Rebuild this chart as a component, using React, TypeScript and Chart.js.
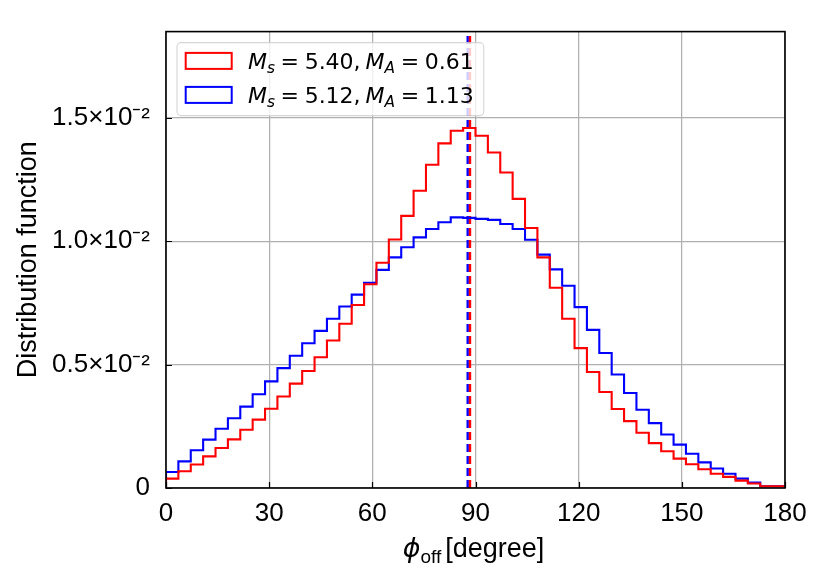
import { useEffect, useRef } from "react";
import { Chart, registerables } from "chart.js";

Chart.register(...registerables);

// ---- data ----
const X_MIN = 0;
const X_MAX = 180;
const Y_MAX = 0.0185;

// Ms = 5.40, MA = 0.61 (red), 50 bins over 0..180 degree
const redValues = [
  0.00014, 0.00038, 0.00068, 0.00095, 0.00128, 0.00162, 0.00197, 0.00236, 0.00277, 0.00321,
  0.00371, 0.00423, 0.00474, 0.0053, 0.00598, 0.00666, 0.00742, 0.00826, 0.00913, 0.01007,
  0.01103, 0.01205, 0.0131, 0.01397, 0.01448, 0.01459, 0.01428, 0.0136, 0.01279, 0.01172,
  0.01054, 0.00935, 0.00812, 0.00686, 0.00567, 0.0047, 0.00389, 0.0032, 0.00271, 0.00224,
  0.00182, 0.00149, 0.00119, 0.00096, 0.00076, 0.00058, 0.00045, 0.0003, 0.00018, 0.00007,
];

// Ms = 5.12, MA = 1.13 (blue)
const blueValues = [
  0.0002, 0.00065, 0.00108, 0.00153, 0.00196, 0.0024, 0.00283, 0.0033, 0.0038, 0.00432,
  0.00486, 0.00536, 0.00587, 0.00637, 0.00686, 0.00736, 0.00784, 0.00832, 0.00884, 0.00935,
  0.00976, 0.01016, 0.0105, 0.01077, 0.01097, 0.01095, 0.01091, 0.01087, 0.0107, 0.0105,
  0.01006, 0.00946, 0.00886, 0.0082, 0.00733, 0.00641, 0.00547, 0.0046, 0.00385, 0.00317,
  0.00263, 0.00217, 0.00176, 0.00139, 0.00104, 0.00079, 0.00058, 0.00038, 0.00022, 0.00007,
];

const redMean = 88.4;
const blueMean = 87.73;

const xTicks = [0, 30, 60, 90, 120, 150, 180];
const yTicks = [0, 0.005, 0.01, 0.015];
const yTickLabels = ["0", "0.5×10⁻²", "1.0×10⁻²", "1.5×10⁻²"];

const legendEntries = [
  { color: "#ff0000", ms: "5.40", ma: "0.61" },
  { color: "#0000ff", ms: "5.12", ma: "1.13" },
];

const yTitle = "Distribution function";

// ---- helpers ----
function stepPoints(values: number[]) {
  const w = (X_MAX - X_MIN) / values.length;
  const pts: { x: number; y: number }[] = [{ x: X_MIN, y: 0 }];
  values.forEach((v, i) => pts.push({ x: X_MIN + i * w, y: v }));
  pts.push({ x: X_MAX, y: values[values.length - 1] });
  pts.push({ x: X_MAX, y: 0 });
  return pts;
}

type Part = { t?: string; sp?: number; italic?: boolean; size?: number; family?: string; dy?: number };

function partFont(p: Part, baseSize: number, baseFamily: string) {
  return `${p.italic ? "italic " : ""}${p.size ?? baseSize}px ${p.family ?? baseFamily}`;
}

function measureParts(ctx: CanvasRenderingContext2D, parts: Part[], baseSize: number, baseFamily: string) {
  let w = 0;
  for (const p of parts) {
    if (p.sp !== undefined) { w += p.sp; continue; }
    ctx.font = partFont(p, baseSize, baseFamily);
    w += ctx.measureText(p.t || "").width;
  }
  return w;
}

function drawParts(ctx: CanvasRenderingContext2D, parts: Part[], x: number, baseline: number, baseSize: number, baseFamily: string) {
  let cx = x;
  ctx.textAlign = "left";
  ctx.textBaseline = "alphabetic";
  for (const p of parts) {
    if (p.sp !== undefined) { cx += p.sp; continue; }
    ctx.font = partFont(p, baseSize, baseFamily);
    ctx.fillText(p.t || "", cx, baseline + (p.dy ?? 0));
    cx += ctx.measureText(p.t || "").width;
  }
  return cx;
}

const MATH = "'DejaVu Sans'";
const SANS = "'Liberation Sans', Arial, sans-serif";
const LEGEND_SIZE = 22;

function legendParts(ms: string, ma: string): Part[] {
  const sub = 15.4;
  const thick = 5.6;
  return [
    { t: "M", italic: true },
    { t: "s", italic: true, size: sub, dy: 3.6 },
    { sp: thick },
    { t: "=" },
    { sp: thick },
    { t: ms + "," },
    { sp: 5 },
    { t: "M", italic: true },
    { t: "A", italic: true, size: sub, dy: 3.6 },
    { sp: thick },
    { t: "=" },
    { sp: thick },
    { t: ma },
  ];
}

const xTitleParts: Part[] = [
  { t: "ϕ", italic: true, family: MATH, size: 27 },
  { t: "off", family: SANS, size: 19, dy: 6 },
  { sp: 4 },
  { t: "[degree]", family: SANS, size: 27 },
];

const decorPlugin = {
  id: "decor",
  afterDatasetsDraw(chart: any) {
    const { ctx, chartArea } = chart;
    const { left, right, top, bottom } = chartArea;
    const xs = chart.scales.x;
    const ys = chart.scales.y;
    ctx.save();
    ctx.strokeStyle = "#000";
    ctx.lineWidth = 1.2;
    ctx.beginPath();
    xs.ticks.forEach((t: any) => {
      const px = Math.round(xs.getPixelForValue(t.value)) + 0.5;
      ctx.moveTo(px, bottom);
      ctx.lineTo(px, bottom - 6);
    });
    ys.ticks.forEach((t: any) => {
      const py = Math.round(ys.getPixelForValue(t.value)) + 0.5;
      ctx.moveTo(left, py);
      ctx.lineTo(left + 6, py);
    });
    ctx.stroke();
    ctx.lineWidth = 1.6;
    ctx.strokeRect(left, top, right - left, bottom - top);
    ctx.restore();
  },
  afterDraw(chart: any) {
    const { ctx, chartArea } = chart;
    const { left, right, top, bottom } = chartArea;
    ctx.save();

    // legend
    const boxX = left + 11;
    const boxY = top + 11;
    const swX = boxX + 8.7;
    const swW = 46;
    const swH = 16;
    const textX = swX + swW + 16.3;
    const rowGap = 34;
    const firstCenter = boxY + 18.3;
    let maxW = 0;
    legendEntries.forEach((e) => {
      maxW = Math.max(maxW, measureParts(ctx, legendParts(e.ms, e.ma), LEGEND_SIZE, MATH));
    });
    const boxW = textX - boxX + maxW + 10;
    const boxH = 73;
    ctx.beginPath();
    const r = 4;
    ctx.moveTo(boxX + r, boxY);
    ctx.arcTo(boxX + boxW, boxY, boxX + boxW, boxY + boxH, r);
    ctx.arcTo(boxX + boxW, boxY + boxH, boxX, boxY + boxH, r);
    ctx.arcTo(boxX, boxY + boxH, boxX, boxY, r);
    ctx.arcTo(boxX, boxY, boxX + boxW, boxY, r);
    ctx.closePath();
    ctx.fillStyle = "rgba(255,255,255,0.8)";
    ctx.fill();
    ctx.strokeStyle = "rgba(204,204,204,0.8)";
    ctx.lineWidth = 1.1;
    ctx.stroke();

    legendEntries.forEach((e, i) => {
      const cy = firstCenter + i * rowGap;
      ctx.strokeStyle = e.color;
      ctx.lineWidth = 2;
      ctx.strokeRect(swX, cy - swH / 2, swW, swH);
      ctx.fillStyle = "#000";
      drawParts(ctx, legendParts(e.ms, e.ma), textX, cy + 8, LEGEND_SIZE, MATH);
    });

    // x axis title
    const tw = measureParts(ctx, xTitleParts, 27, SANS);
    const cx = (left + right) / 2;
    ctx.fillStyle = "#000";
    drawParts(ctx, xTitleParts, cx - tw / 2 - 2, bottom + 69, 27, SANS);

    ctx.restore();
  },
};

export default function App() {
  const ref = useRef<HTMLCanvasElement | null>(null);

  useEffect(() => {
    if (!ref.current) return;
    const chart = new Chart(ref.current, {
      type: "line",
      data: {
        datasets: [
          {
            label: "red",
            data: stepPoints(redValues),
            borderColor: "#ff0000",
            borderWidth: 2.1,
            stepped: "after",
            pointRadius: 0,
            fill: false,
          },
          {
            label: "blue",
            data: stepPoints(blueValues),
            borderColor: "#0000ff",
            borderWidth: 2.1,
            stepped: "after",
            pointRadius: 0,
            fill: false,
          },
          {
            label: "red mean",
            data: [
              { x: redMean, y: 0 },
              { x: redMean, y: Y_MAX },
            ],
            borderColor: "#ff0000",
            borderWidth: 2.4,
            borderDash: [8, 4],
            pointRadius: 0,
            fill: false,
          },
          {
            label: "blue mean",
            data: [
              { x: blueMean, y: 0 },
              { x: blueMean, y: Y_MAX },
            ],
            borderColor: "#0000ff",
            borderWidth: 2.4,
            borderDash: [8, 4],
            pointRadius: 0,
            fill: false,
          },
        ],
      },
      options: {
        animation: false,
        responsive: false,
        maintainAspectRatio: false,
        devicePixelRatio: 1,
        layout: { padding: { top: 31, right: 45, left: 0, bottom: 0 } },
        plugins: { legend: { display: false }, tooltip: { enabled: false } },
        elements: { point: { radius: 0 } },
        scales: {
          x: {
            type: "linear",
            min: X_MIN,
            max: X_MAX,
            afterBuildTicks: (s: any) => {
              s.ticks = xTicks.map((v) => ({ value: v }));
            },
            afterFit: (s: any) => {
              s.height = 99;
            },
            grid: { color: "#b0b0b0", lineWidth: 1.25, drawTicks: false },
            border: { display: false },
            ticks: {
              color: "#000",
              padding: 10,
              maxRotation: 0,
              autoSkip: false,
              font: { family: SANS, size: 26 },
              callback: (v: any) => String(v),
            },
          },
          y: {
            type: "linear",
            min: 0,
            max: Y_MAX,
            afterBuildTicks: (s: any) => {
              s.ticks = yTicks.map((v) => ({ value: v }));
            },
            afterFit: (s: any) => {
              s.width = 166;
            },
            grid: { color: "#b0b0b0", lineWidth: 1.25, drawTicks: false },
            border: { display: false },
            ticks: {
              color: "#000",
              padding: 16,
              autoSkip: false,
              font: { family: SANS, size: 26 },
              callback: (v: any) => {
                const i = yTicks.findIndex((t) => Math.abs(t - v) < 1e-9);
                return i >= 0 ? yTickLabels[i] : "";
              },
            },
            title: {
              display: true,
              text: yTitle,
              color: "#000",
              font: { family: SANS, size: 27 },
              padding: { top: 12, bottom: 0 },
            },
          },
        },
      } as any,
      plugins: [decorPlugin],
    });
    return () => chart.destroy();
  }, []);

  return (
    <div style={{ position: "fixed", left: 0, top: 0, width: 830, height: 587, background: "#fff" }}>
      <canvas ref={ref} width={830} height={587} style={{ width: 830, height: 587, display: "block" }} />
    </div>
  );
}
